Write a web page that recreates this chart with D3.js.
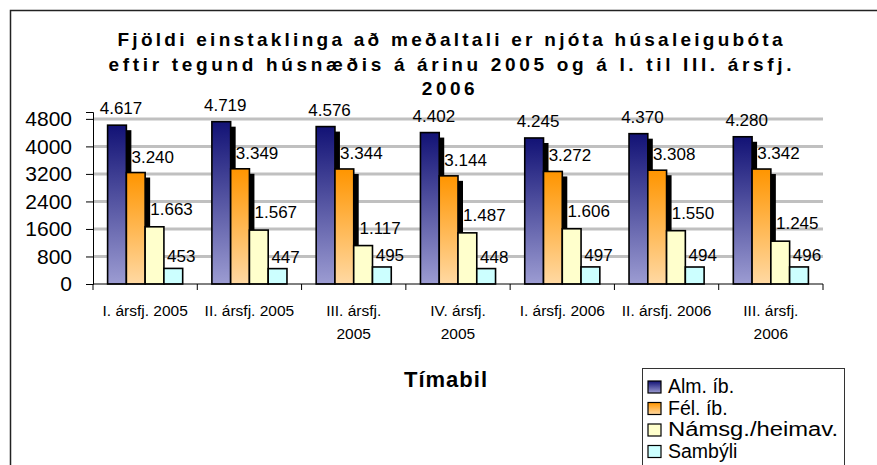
<!DOCTYPE html>
<html>
<head>
<meta charset="utf-8">
<script src="https://cdn.jsdelivr.net/npm/d3@7"></script>
<style>
  body { margin: 0; background: #fff; }
  svg { display: block; }
</style>
</head>
<body>
<div id="chart"></div>
<script>
var titleLines = ["Fjöldi einstaklinga að meðaltali er njóta húsaleigubóta",
    "eftir tegund húsnæðis á árinu 2005 og á I. til III. ársfj.",
    "2006"];
var tickLabels = [["I. ársfj. 2005"], ["II. ársfj. 2005"], ["III. ársfj.", "2005"],
    ["IV. ársfj.", "2005"], ["I. ársfj. 2006"], ["II. ársfj. 2006"], ["III. ársfj.", "2006"]];
var seriesNames = ["Alm. íb.", "Fél. íb.", "Námsg./heimav.", "Sambýli"];
var alm = [4617, 4719, 4576, 4402, 4245, 4370, 4280];
var fel = [3240, 3349, 3344, 3144, 3272, 3308, 3342];
var namsg = [1663, 1567, 1117, 1487, 1606, 1550, 1245];
var sambyli = [453, 447, 495, 448, 497, 494, 496];
var yTicks = [0, 800, 1600, 2400, 3200, 4000, 4800];
var xTitle = "Tímabil";

var series = [alm, fel, namsg, sambyli];
var width = 877, height = 465;

var svg = d3.select("#chart").append("svg")
    .attr("width", width).attr("height", height);

/* gradients for the two dark series */
var defs = svg.append("defs");
function grad(id, top, bottom) {
    var g = defs.append("linearGradient").attr("id", id)
        .attr("x1", 0).attr("y1", 0).attr("x2", 0).attr("y2", 1);
    g.append("stop").attr("offset", "0%").attr("stop-color", top);
    g.append("stop").attr("offset", "100%").attr("stop-color", bottom);
}
grad("gBlue", "#121275", "#9c9cd2");
grad("gOrange", "#ff9500", "#ffd9a3");
var fills = ["url(#gBlue)", "url(#gOrange)", "#ffffcc", "#ccffff"];

/* chart border */
svg.append("rect")
    .attr("x", 10.5).attr("y", 10.5).attr("width", 900).attr("height", 500)
    .attr("fill", "none").attr("stroke", "#222").attr("stroke-width", 1.5);

/* title */
var titleWidths = [665, 683, null];
titleLines.forEach(function (t, i) {
    var tx = svg.append("text")
        .attr("x", 450).attr("y", 46 + i * 24.5)
        .attr("text-anchor", "middle")
        .style("font-family", "'Liberation Sans', Arial, sans-serif")
        .style("font-weight", "bold").style("font-size", "19px")
        .text(t);
    if (titleWidths[i]) {
        tx.attr("textLength", titleWidths[i]).attr("lengthAdjust", "spacing");
    } else {
        tx.style("letter-spacing", "3.5px");
    }
});

var x0 = d3.scaleBand()
    .domain(d3.range(tickLabels.length))
    .range([93, 823])
    .paddingInner(0.28).paddingOuter(0.14);
var x1 = d3.scaleBand()
    .domain(d3.range(series.length))
    .range([0, x0.bandwidth()]);
var y = d3.scaleLinear().domain([0, 5000]).range([284, 112]);

/* gridlines */
svg.append("g").selectAll("line")
    .data(yTicks.filter(function (d) { return d > 0; }))
    .enter().append("line")
    .attr("x1", 93).attr("x2", 823)
    .attr("y1", function (d) { return y(d); })
    .attr("y2", function (d) { return y(d); })
    .attr("stroke", "#c0c0c0").attr("stroke-width", 3);

/* bars, with a black shadow behind the first two series */
var step = x0.step();
series.forEach(function (vals, s) {
    var g = svg.append("g");
    if (s < 2) {
        g.selectAll("rect.sh").data(vals).enter().append("rect")
            .attr("x", function (d, i) { return x0(i) + x1(s) + 5; })
            .attr("y", function (d) { return y(d) + 5; })
            .attr("width", x1.bandwidth())
            .attr("height", function (d) { return y(0) - y(d) - 5; })
            .attr("fill", "#000");
    }
    g.selectAll("rect.bar").data(vals).enter().append("rect")
        .attr("x", function (d, i) { return x0(i) + x1(s); })
        .attr("y", function (d) { return y(d); })
        .attr("width", x1.bandwidth())
        .attr("height", function (d) { return y(0) - y(d); })
        .attr("fill", fills[s])
        .attr("stroke", "#000").attr("stroke-width", 1.6);
});

/* axes */
var yAxis = d3.axisLeft(y).tickValues(yTicks).tickFormat(d3.format("d"))
    .tickSize(7).tickPadding(14);
var ga = svg.append("g").attr("transform", "translate(93,0)").call(yAxis);
ga.select(".domain").attr("stroke", "#000");
ga.selectAll("text")
    .style("font-family", "'Liberation Sans', Arial, sans-serif")
    .style("font-size", "21px").attr("fill", "#000");

var gx = svg.append("g");
gx.append("line").attr("x1", 93).attr("x2", 823).attr("y1", 284).attr("y2", 284)
    .attr("stroke", "#000");
gx.selectAll("line.t").data(d3.range(tickLabels.length + 1)).enter().append("line")
    .attr("x1", function (i) { return 93 + i * step; })
    .attr("x2", function (i) { return 93 + i * step; })
    .attr("y1", 284).attr("y2", 290).attr("stroke", "#000");
tickLabels.forEach(function (lines, i) {
    var t = gx.append("text")
        .attr("text-anchor", "middle")
        .style("font-family", "'Liberation Sans', Arial, sans-serif")
        .style("font-size", "15.5px");
    lines.forEach(function (l, k) {
        t.append("tspan").attr("x", 93 + (i + 0.5) * step).attr("y", 316 + k * 23).text(l);
    });
});

svg.append("text").attr("x", 446).attr("y", 387).attr("text-anchor", "middle")
    .style("font-family", "'Liberation Sans', Arial, sans-serif")
    .style("font-weight", "bold").style("font-size", "22px")
    .style("letter-spacing", "1px")
    .text(xTitle);

/* value labels */
var fmt = d3.formatLocale({ decimal: ",", thousands: ".", grouping: [3], currency: ["", ""] }).format(",d");
var labDx = [4, 17, 17, 8], labDy = [11, 10, 12, 6];
series.forEach(function (vals, s) {
    svg.append("g").selectAll("text").data(vals).enter().append("text")
        .attr("x", function (d, i) { return x0(i) + x1(s) + x1.bandwidth() / 2 + labDx[s]; })
        .attr("y", function (d) { return y(d) - labDy[s]; })
        .attr("text-anchor", "middle")
        .style("font-family", "'Liberation Sans', Arial, sans-serif")
        .style("font-size", "17px")
        .text(function (d) { return fmt(d); });
});

/* legend */
var lg = svg.append("g");
lg.append("rect").attr("x", 642.5).attr("y", 368.5).attr("width", 202).attr("height", 120)
    .attr("fill", "#fff").attr("stroke", "#333").attr("stroke-width", 1);
seriesNames.forEach(function (n, i) {
    var by = 393 + i * 21.5;
    lg.append("rect").attr("x", 648).attr("y", by - 12).attr("width", 13).attr("height", 12)
        .attr("fill", fills[i]).attr("stroke", "#000").attr("stroke-width", 1.2);
    lg.append("text").attr("x", 668).attr("y", by)
        .attr("textLength", n.length > 10 ? 170 : null)
        .attr("lengthAdjust", "spacingAndGlyphs")
        .style("font-family", "'Liberation Sans', Arial, sans-serif")
        .style("font-size", "19.5px")
        .text(n);
});
</script>
</body>
</html>
